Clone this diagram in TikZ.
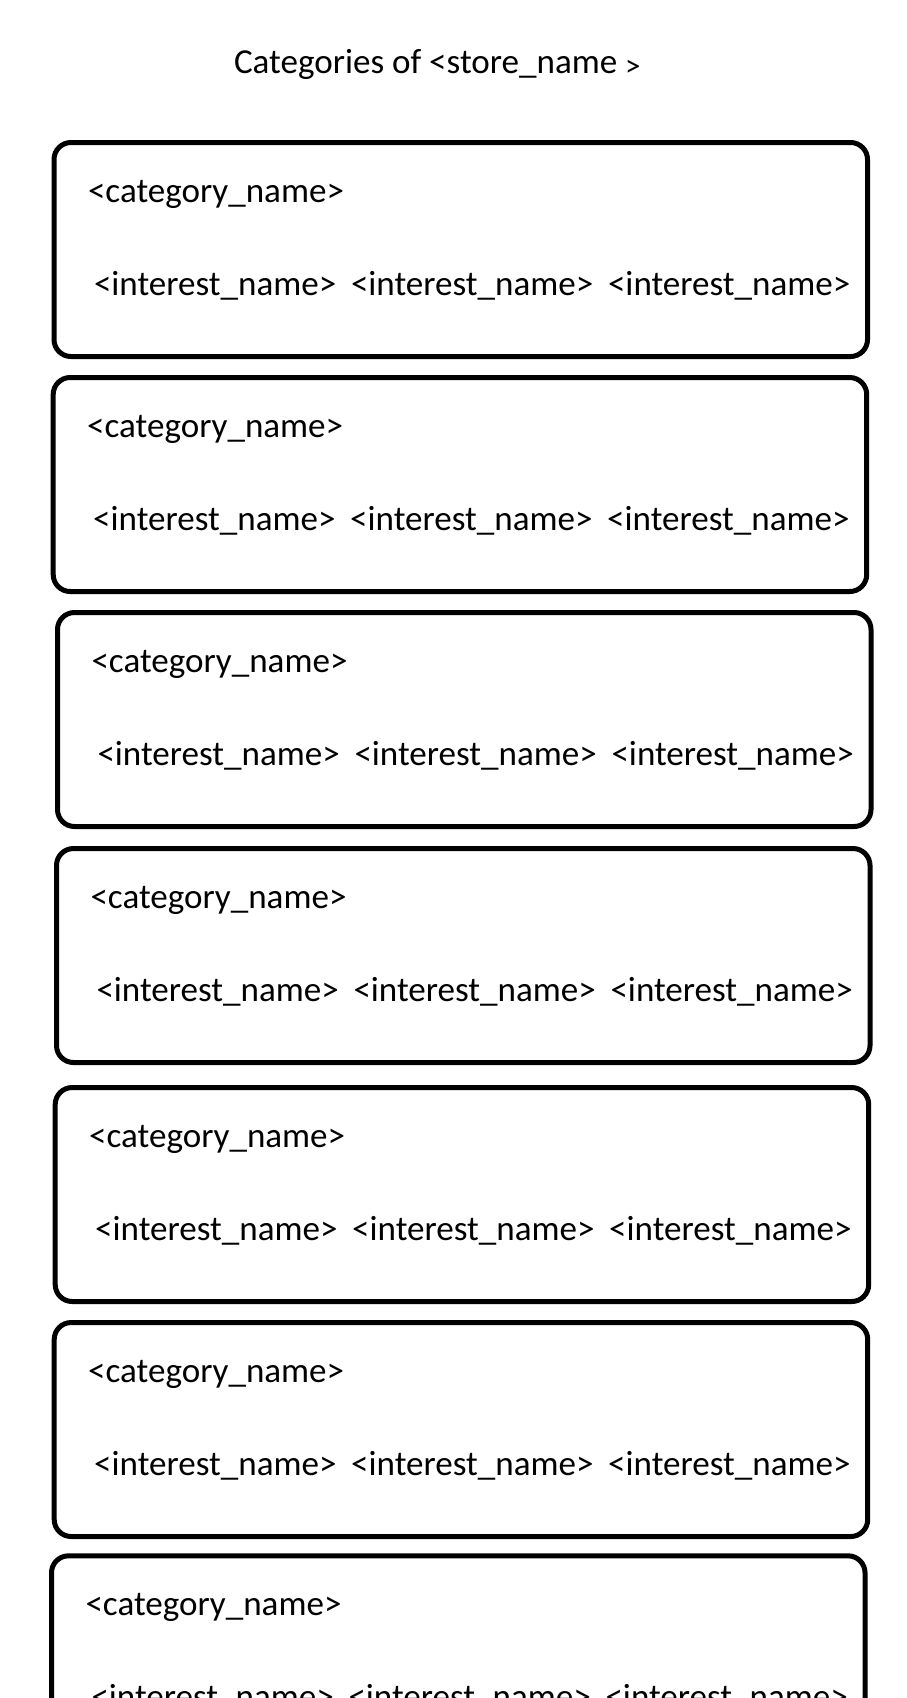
\documentclass[tikz,border=0pt]{standalone}
\usepackage{fontspec}
\setmainfont{Carlito}
\begin{document}
\begin{tikzpicture}[x=0.5bp,y=-0.5bp,
  catbox/.style={draw=black, line width=2.5bp, rounded corners=8.5bp, minimum width=406.75bp, minimum height=107bp, outer sep=0pt, inner sep=0pt, anchor=north west},
  lbl/.style={inner sep=0pt, outer sep=0pt, anchor=base west, font=\fontsize{17.6pt}{20pt}\selectfont}]
\fill[white] (0,0) rectangle (906,1698);
\clip (0,0) rectangle (906,1698);
\node[lbl] (title) at (234,73.3) {Categories of <store\_name {\fontsize{15.5pt}{18pt}\selectfont\raisebox{-1.5bp}{>}}};
\foreach \i/\bx/\by in {1/54/142.5, 2/53.2/377.5, 3/57.5/612.5, 4/56.5/848.5, 5/55.2/1087.5, 6/54.2/1322.5, 7/51.5/1555.8} {
  \node[catbox] (box\i) at (\bx,\by) {};
  \node[lbl] (cat\i) at (\bx+34,\by+60) {<category\_name>};
  \node[lbl] (inta\i) at (\bx+40,\by+153) {<interest\_name>};
  \node[lbl] (intb\i) at (\bx+297,\by+153) {<interest\_name>};
  \node[lbl] (intc\i) at (\bx+554,\by+153) {<interest\_name>};
}
\end{tikzpicture}
\end{document}
